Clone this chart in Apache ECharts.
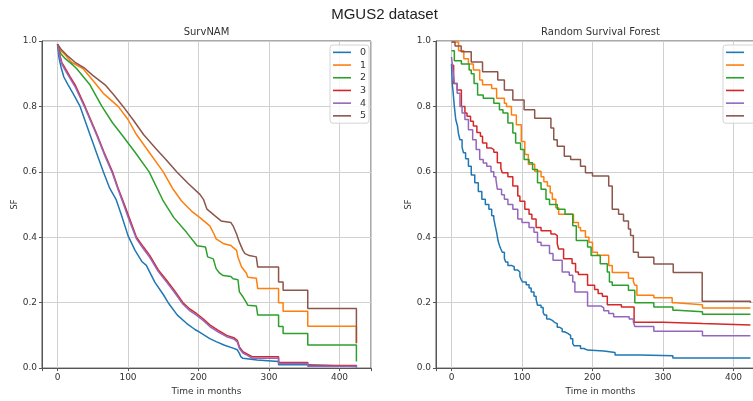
<!DOCTYPE html>
<html>
<head>
<meta charset="utf-8">
<script src="https://cdn.jsdelivr.net/npm/echarts@6/dist/echarts.min.js"></script>
<style>
html,body{margin:0;padding:0;overflow:hidden;background:#fff;}
#c{width:780px;height:401px;}
</style>
</head>
<body>
<div id="c"></div>
<script>
// ---- categories / ticks ----
const groups = ['0','1','2','3','4','5'];
const colors = ['#1f77b4','#ff7f0e','#2ca02c','#d62728','#9467bd','#8c564b'];
const xTicks = [0,100,200,300,400];
const yTicks = [0,0.2,0.4,0.6,0.8,1.0];

// ---- SurvNAM (time in months, SF) ----
const namTime0 = [0,2,5,9,15,22,32,46,55,65,74,83,91,100,110,120,126,138,150,157,170,183,195,202,216,225,237,249,255,258,260,263,283,284,313.6,313.6,355,355,424,424];
const namSF0   = [0.99,0.95,0.92,0.89,0.866,0.84,0.80,0.714,0.66,0.60,0.55,0.516,0.466,0.405,0.36,0.325,0.314,0.263,0.225,0.20,0.162,0.137,0.118,0.109,0.09,0.081,0.07,0.061,0.056,0.045,0.035,0.03,0.025,0.02,0.02,0.01,0.01,0.005,0.005,0.002];

const namTime1 = [0,5,11,20,36,50,65,86,100,112,130,150,163,176,190,202,213,216,222,225,236,246,249,254,256,261,263,268,270,282,284,313.6,313.6,320,320,355,355,424,424];
const namSF1   = [0.99,0.97,0.957,0.935,0.916,0.88,0.84,0.80,0.76,0.714,0.66,0.60,0.55,0.511,0.48,0.46,0.44,0.435,0.41,0.395,0.38,0.375,0.369,0.36,0.339,0.31,0.304,0.29,0.278,0.275,0.243,0.243,0.2,0.2,0.174,0.174,0.128,0.128,0.076];

const namTime2 = [0,5,11,20,27,46,63,78,91,110,130,150,165,183,198,210,213,221,225,230,235,246,249,256,258,263,268,270,282,284,313.6,313.6,320,320,355,355,424,424];
const namSF2   = [0.985,0.96,0.946,0.93,0.916,0.866,0.80,0.75,0.714,0.66,0.60,0.511,0.46,0.415,0.374,0.37,0.34,0.334,0.304,0.29,0.283,0.28,0.273,0.27,0.233,0.218,0.2,0.192,0.19,0.162,0.162,0.127,0.127,0.106,0.106,0.071,0.071,0.02];

const namTime3 = [0,3,6,11,18,25,39,56,66,78,86,93,100,106,112,122,131,143,155,165,178,188,197,207,216,228,240,250,255,258,263,270,276,313.6,313.6,355,355,424,424];
const namSF3   = [0.99,0.96,0.935,0.916,0.89,0.866,0.80,0.714,0.66,0.60,0.55,0.511,0.47,0.435,0.40,0.37,0.344,0.30,0.268,0.24,0.20,0.18,0.167,0.15,0.132,0.115,0.10,0.093,0.085,0.065,0.05,0.042,0.035,0.035,0.017,0.017,0.008,0.008,0.004];

const namTime4 = [0,3,6,11,18,25,39,56,66,78,86,93,100,106,112,122,131,143,155,165,178,188,197,207,216,228,240,250,255,258,263,270,276,313.6,313.6,355,355,424,424];
const namSF4   = [0.99,0.955,0.93,0.91,0.885,0.86,0.795,0.71,0.655,0.595,0.545,0.505,0.462,0.428,0.395,0.364,0.338,0.295,0.262,0.234,0.195,0.175,0.162,0.145,0.127,0.11,0.096,0.089,0.08,0.06,0.046,0.038,0.03,0.03,0.014,0.014,0.006,0.006,0.003];

const namTime5 = [0,5,13,25,39,50,67.5,80,93,108,122,140,155,169,185,202,207,212,223,232,246,249,254,258,263,266,272,282,284,313.6,313.6,320,320,355,355,424,424];
const namSF5   = [0.99,0.975,0.957,0.935,0.916,0.895,0.866,0.835,0.80,0.757,0.714,0.67,0.635,0.60,0.565,0.531,0.516,0.486,0.466,0.45,0.445,0.435,0.41,0.385,0.36,0.35,0.344,0.34,0.309,0.309,0.263,0.263,0.238,0.238,0.182,0.182,0.076];

// ---- Random Survival Forest (step functions) ----
const rsfTime0 = [0,1,2,4,6,8.5,10,12,15,17,20,24,28,33,38,43,48,53,57,60,62,64,66,68,70,72,75,77,80,85,89,94,97,99,101,106,110,113,117,120,122,127,130,132,135,139,143,146,150,153,157,160,165,169,172,174,183,188,193,216,232,268,314,424];
const rsfSF0   = [0.93,0.87,0.85,0.80,0.76,0.74,0.715,0.698,0.675,0.658,0.64,0.617,0.59,0.567,0.54,0.516,0.50,0.486,0.466,0.456,0.435,0.415,0.39,0.375,0.364,0.354,0.335,0.324,0.314,0.31,0.30,0.294,0.28,0.27,0.263,0.255,0.245,0.233,0.22,0.21,0.192,0.185,0.17,0.162,0.15,0.146,0.14,0.136,0.125,0.12,0.111,0.106,0.10,0.09,0.075,0.068,0.06,0.055,0.052,0.048,0.04,0.038,0.031,0.03];

const rsfTime1 = [0,10,17.5,24,31,40,44,57,64,75,78,85,92,99,104,109,118,127,131,136,140,143,148,152,173,180,183,190,195,200,207,223,228,251,258,260,263,287,313,318,356,424];
const rsfSF1   = [0.997,0.97,0.946,0.93,0.911,0.881,0.866,0.855,0.825,0.81,0.80,0.774,0.744,0.693,0.653,0.623,0.602,0.585,0.57,0.557,0.535,0.516,0.49,0.47,0.445,0.43,0.42,0.40,0.385,0.354,0.345,0.314,0.292,0.275,0.265,0.253,0.223,0.215,0.20,0.194,0.184,0.184];

const rsfTime2 = [0,4,14,25,28,32,37,45,60,68,73,80,87,91,98,103,110,115,122,127,134,139,150,161,172,177,193,198,211,221,224,228,251,260,287,314,320,356,424];
const rsfSF2   = [0.97,0.94,0.93,0.911,0.90,0.87,0.835,0.825,0.81,0.79,0.78,0.749,0.719,0.688,0.668,0.638,0.628,0.607,0.567,0.547,0.516,0.50,0.486,0.47,0.435,0.39,0.37,0.344,0.319,0.294,0.263,0.253,0.238,0.20,0.187,0.177,0.172,0.165,0.164];

const rsfTime3 = [0,3,8,14,19,22,27,31,36,41,44,50,56,60,65,70,72,80,87,94,97,104,110,114,120,127,141,147,150,152,159,171,176,180,193,203,208,214,221,241,259,300,356,424];
const rsfSF3   = [0.926,0.87,0.85,0.80,0.78,0.77,0.755,0.74,0.72,0.709,0.688,0.673,0.668,0.66,0.628,0.61,0.597,0.585,0.557,0.526,0.51,0.486,0.47,0.456,0.43,0.42,0.41,0.405,0.38,0.364,0.334,0.32,0.294,0.286,0.253,0.24,0.228,0.22,0.194,0.187,0.14,0.136,0.132,0.132];

const rsfTime4 = [0,2,4,8,12,15,19,24,30,35,40,45,50,56,60,63,65,71,75,80,87,94,100,110,117,122,127,139,144,157,167,172,175,193,212,216,223,230,252,258,260,287,356,424];
const rsfSF4   = [0.951,0.91,0.87,0.84,0.80,0.78,0.76,0.729,0.698,0.668,0.638,0.627,0.617,0.60,0.585,0.577,0.547,0.53,0.516,0.50,0.486,0.456,0.445,0.43,0.415,0.385,0.375,0.35,0.33,0.294,0.284,0.263,0.233,0.19,0.184,0.175,0.167,0.157,0.15,0.141,0.127,0.113,0.099,0.099];

const rsfTime5 = [0,5,13.7,28,44,65.6,75,87,103,118,141,145,150,160,169,183,190,200,223,228,237,244,251,254,258,265,287,314.5,355.6,424];
const rsfSF5   = [0.997,0.985,0.967,0.936,0.906,0.881,0.85,0.82,0.79,0.764,0.734,0.698,0.678,0.648,0.638,0.617,0.597,0.587,0.557,0.486,0.47,0.45,0.425,0.405,0.354,0.339,0.318,0.292,0.204,0.2];

const namTimes = [namTime0,namTime1,namTime2,namTime3,namTime4,namTime5];
const namSFs   = [namSF0,namSF1,namSF2,namSF3,namSF4,namSF5];
const rsfTimes = [rsfTime0,rsfTime1,rsfTime2,rsfTime3,rsfTime4,rsfTime5];
const rsfSFs   = [rsfSF0,rsfSF1,rsfSF2,rsfSF3,rsfSF4,rsfSF5];

const zip = (a,b) => a.map((t,i)=>[t,b[i]]);
const FONT = "'DejaVu Sans', sans-serif";
const TXT = '#333';
const GRIDC = '#d0d0d0';

function xAxisCfg(gi){
  return {
    type:'value', gridIndex:gi, min:-22, max:444.7,
    name:'Time in months', nameLocation:'middle', nameGap:15,
    nameTextStyle:{fontFamily:FONT,fontSize:9,color:TXT},
    axisLine:{show:true,onZero:false,lineStyle:{color:'#555',width:1}},
    axisTick:{show:true,length:3,lineStyle:{color:'#555'}},
    axisLabel:{fontFamily:FONT,fontSize:9,color:TXT,margin:5,
      formatter:v=>(xTicks.indexOf(v)>=0 ? String(v) : '')},
    splitLine:{show:true,lineStyle:{color:GRIDC,width:1}}
  };
}
function yAxisCfg(gi){
  return {
    type:'value', gridIndex:gi, min:yTicks[0], max:yTicks[yTicks.length-1], interval:0.2,
    name:'SF', nameLocation:'middle', nameGap:23, nameRotate:90,
    nameTextStyle:{fontFamily:FONT,fontSize:8,color:TXT},
    axisLine:{show:true,onZero:false,lineStyle:{color:'#555',width:1}},
    axisTick:{show:true,length:3,lineStyle:{color:'#555'}},
    axisLabel:{fontFamily:FONT,fontSize:9,color:TXT,margin:5,formatter:v=>v.toFixed(1)},
    splitLine:{show:true,lineStyle:{color:GRIDC,width:1}}
  };
}
function legendCfg(left){
  return {
    left:left, top:45, orient:'vertical', data:groups,
    icon:'rect', itemWidth:18, itemHeight:1.6, itemGap:0,
    backgroundColor:'rgba(255,255,255,0.85)', borderColor:'#d4d4d4', borderWidth:1, borderRadius:3,
    padding:[1,3,1,3],
    textStyle:{fontFamily:FONT,fontSize:9.5,color:TXT,lineHeight:12.7,padding:[0,0,0,4]}
  };
}

const series = [];
// vertical grid lines at the outer x ticks (drawn beneath the curves)
[0,1].forEach(gi=>{
  [xTicks[0], xTicks[xTicks.length-1]].forEach(v=>{
    series.push({type:'line',xAxisIndex:gi,yAxisIndex:gi,silent:true,z:1,
      data:[[v,yTicks[0]],[v,yTicks[yTicks.length-1]]],
      showSymbol:false,symbol:'none',lineStyle:{color:GRIDC,width:1},itemStyle:{color:GRIDC}});
  });
});
groups.forEach((g,i)=>{
  series.push({name:g,type:'line',xAxisIndex:0,yAxisIndex:0,data:zip(namTimes[i],namSFs[i]),z:3,
    showSymbol:false,symbol:'none',color:colors[i],lineStyle:{width:1.5,color:colors[i]},itemStyle:{color:colors[i]}});
});
groups.forEach((g,i)=>{
  series.push({name:g,type:'line',step:'end',xAxisIndex:1,yAxisIndex:1,data:zip(rsfTimes[i],rsfSFs[i]),z:3,
    showSymbol:false,symbol:'none',color:colors[i],lineStyle:{width:1.5,color:colors[i]},itemStyle:{color:colors[i]}});
});

const chart = echarts.init(document.getElementById('c'),null,{renderer:'canvas'});
chart.setOption({
  animation:false,
  backgroundColor:'#fff',
  title:[
    {text:'MGUS2 dataset',left:384.5,top:7,textAlign:'center',padding:0,
     textStyle:{fontFamily:"'Liberation Sans', Arial, sans-serif",fontSize:15,fontWeight:'normal',color:'#222'}},
    {text:'SurvNAM',left:206.5,top:27,textAlign:'center',padding:0,
     textStyle:{fontFamily:FONT,fontSize:10,fontWeight:'normal',color:TXT}},
    {text:'Random Survival Forest',left:600.5,top:27,textAlign:'center',padding:0,
     textStyle:{fontFamily:FONT,fontSize:10,fontWeight:'normal',color:TXT}}
  ],
  grid:[
    {left:42,top:41,width:329,height:329,show:true,borderColor:'#555',borderWidth:1,backgroundColor:'transparent'},
    {left:436,top:41,width:329,height:329,show:true,borderColor:'#555',borderWidth:1,backgroundColor:'transparent'}
  ],
  xAxis:[xAxisCfg(0),xAxisCfg(1)],
  yAxis:[yAxisCfg(0),yAxisCfg(1)],
  legend:[legendCfg(330),legendCfg(723)],
  series:series
});
</script>
</body>
</html>
